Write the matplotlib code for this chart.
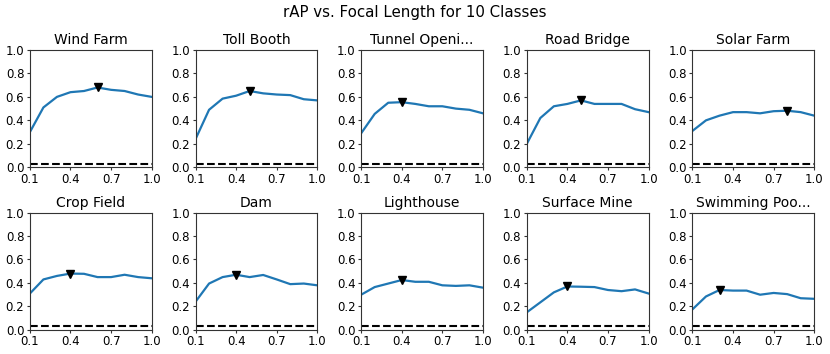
import matplotlib
matplotlib.use("Agg")
import matplotlib.pyplot as plt
import numpy as np

focal = [0.1, 0.2, 0.3, 0.4, 0.5, 0.6, 0.7, 0.8, 0.9, 1.0]
classes = ["Wind Farm", "Toll Booth", "Tunnel Openi...", "Road Bridge", "Solar Farm",
           "Crop Field", "Dam", "Lighthouse", "Surface Mine", "Swimming Poo..."]

wind_farm = [0.30, 0.51, 0.60, 0.64, 0.65, 0.68, 0.66, 0.65, 0.62, 0.60]
toll_booth = [0.24, 0.49, 0.585, 0.61, 0.65, 0.63, 0.62, 0.615, 0.58, 0.57]
tunnel_opening = [0.29, 0.455, 0.55, 0.555, 0.54, 0.52, 0.52, 0.50, 0.49, 0.46]
road_bridge = [0.20, 0.42, 0.52, 0.54, 0.57, 0.54, 0.54, 0.54, 0.495, 0.47]
solar_farm = [0.31, 0.40, 0.44, 0.47, 0.47, 0.46, 0.478, 0.482, 0.47, 0.44]
crop_field = [0.31, 0.43, 0.46, 0.48, 0.478, 0.45, 0.45, 0.47, 0.45, 0.44]
dam = [0.24, 0.395, 0.45, 0.47, 0.45, 0.468, 0.43, 0.39, 0.395, 0.38]
lighthouse = [0.30, 0.365, 0.395, 0.425, 0.41, 0.41, 0.38, 0.375, 0.38, 0.36]
surface_mine = [0.15, 0.235, 0.32, 0.37, 0.368, 0.365, 0.34, 0.33, 0.345, 0.31]
swimming_pool = [0.175, 0.285, 0.34, 0.335, 0.335, 0.30, 0.315, 0.305, 0.27, 0.265]

series = [wind_farm, toll_booth, tunnel_opening, road_bridge, solar_farm,
          crop_field, dam, lighthouse, surface_mine, swimming_pool]
baseline = 0.03

fig, axes = plt.subplots(2, 5, figsize=(8.3, 3.54), dpi=100)
fig.subplots_adjust(left=0.036, right=0.981, top=0.859, bottom=0.068,
                    wspace=0.36, hspace=0.385)
fig.suptitle("rAP vs. Focal Length for 10 Classes", fontsize=10.8, y=0.985)

for ax, name, vals in zip(axes.flat, classes, series):
    ax.plot(focal, vals, color="#1f77b4", lw=1.6)
    i = int(np.argmax(vals))
    ax.plot(focal[i], vals[i], marker="v", color="black", ms=5.5, ls="none")
    ax.axhline(baseline, color="black", ls="--", lw=1.5)
    ax.set_xlim(0.1, 1.0)
    ax.set_ylim(0.0, 1.0)
    ax.set_xticks([0.1, 0.4, 0.7, 1.0])
    ax.set_yticks([0.0, 0.2, 0.4, 0.6, 0.8, 1.0])
    ax.tick_params(labelsize=8.5, length=2.5, pad=1.5, color="#333333")
    for s in ax.spines.values():
        s.set_color("#333333")
    ax.set_title(name, fontsize=10, pad=4)

fig.savefig("out.png", dpi=100)
